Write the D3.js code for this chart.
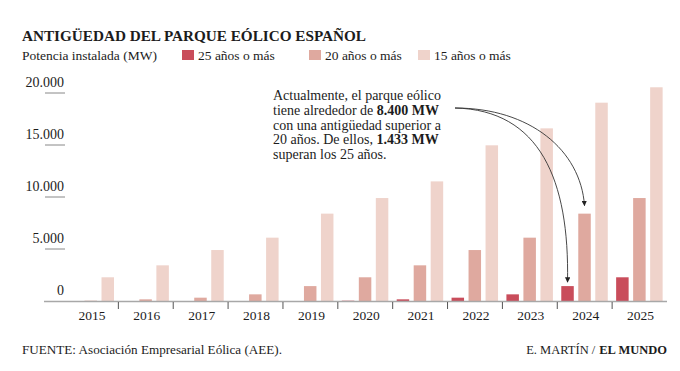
<!DOCTYPE html>
<html>
<head>
<meta charset="utf-8">
<script src="https://cdn.jsdelivr.net/npm/d3@7"></script>
<style>
  body { margin: 0; background: #fff; }
  svg { display: block; }
  text { font-family: "Liberation Serif", "DejaVu Serif", serif; fill: #1c1c1c; }
</style>
</head>
<body>
<svg id="chart" width="680" height="371"></svg>
<script>
// Data (MW)
const years = ["2015", "2016", "2017", "2018", "2019", "2020", "2021", "2022", "2023", "2024", "2025"];
const series = ["25 años o más", "20 años o más", "15 años o más"];
const over25 = [0, 0, 0, 0, 0, 30, 160, 320, 640, 1433, 2280];
const over20 = [30, 160, 320, 640, 1433, 2280, 3430, 4900, 6090, 8400, 9900];
const over15 = [2280, 3430, 4900, 6090, 8400, 9900, 11500, 14970, 16600, 19070, 20550];
const yTicks = [0, 5000, 10000, 15000, 20000];
const colours = ["#c94d5b", "#dfa99f", "#efd3cb"];

const rows = years.map(function (y, i) {
    return { year: y, values: [over25[i], over20[i], over15[i]] };
});

let svg = d3.select("#chart");

// Scales
let x0 = d3.scaleBand().domain(years).range([63.5, 667]).padding(0);
let x1 = d3.scaleBand().domain(series).range([4, 50.5]).paddingInner(0.265);
let y = d3.scaleLinear().domain([0, 20000]).range([301, 93]);

const fmt = function (v) { return d3.format(",")(v).replace(/,/g, "."); };

// Title
svg.append("text")
    .attr("x", 22).attr("y", 41)
    .attr("font-size", 15.5).attr("font-weight", "bold")
    .attr("textLength", 344).attr("lengthAdjust", "spacingAndGlyphs")
    .text("ANTIGÜEDAD DEL PARQUE EÓLICO ESPAÑOL");

// Legend
let legend = svg.append("g").attr("font-size", 13.5);
legend.append("text").attr("x", 22).attr("y", 60).text("Potencia instalada (MW)");
const legendX = [182, 309, 418];
series.forEach(function (s, i) {
    legend.append("rect")
        .attr("x", legendX[i]).attr("y", 50)
        .attr("width", 12).attr("height", 10)
        .attr("fill", colours[i]);
    legend.append("text").attr("x", legendX[i] + 16).attr("y", 60).text(s);
});

// Y axis: labels above short rules
let yAxis = svg.append("g");
yAxis.selectAll("line")
    .data(yTicks.filter(function (d) { return d > 0; }))
    .join("line")
    .attr("x1", 45).attr("x2", 65)
    .attr("y1", function (d) { return y(d); })
    .attr("y2", function (d) { return y(d); })
    .attr("stroke", "#888").attr("stroke-width", 1);
yAxis.selectAll("text")
    .data(yTicks)
    .join("text")
    .attr("x", 64)
    .attr("y", function (d) { return y(d) - 6; })
    .attr("text-anchor", "end")
    .attr("font-size", 14)
    .text(fmt);

// Bars
let groups = svg.append("g").selectAll("g")
    .data(rows)
    .join("g")
    .attr("transform", function (d) { return "translate(" + x0(d.year) + ",0)"; });

groups.selectAll("rect")
    .data(function (d) { return d.values.map(function (v, i) { return { key: series[i], value: v, i: i }; }); })
    .join("rect")
    .attr("x", function (d) { return x1(d.key); })
    .attr("width", x1.bandwidth())
    .attr("y", function (d) { return y(d.value); })
    .attr("height", function (d) { return y(0) - y(d.value); })
    .attr("fill", function (d) { return colours[d.i]; });

// Baseline and separators
svg.append("line")
    .attr("x1", 44).attr("x2", 667)
    .attr("y1", y(0) + 0.5).attr("y2", y(0) + 0.5)
    .attr("stroke", "#a8a8a8").attr("stroke-width", 1.5);

svg.append("g").selectAll("line")
    .data(years.slice(1))
    .join("line")
    .attr("x1", function (d) { return x0(d); })
    .attr("x2", function (d) { return x0(d); })
    .attr("y1", y(0) + 1).attr("y2", y(0) + 8)
    .attr("stroke", "#555").attr("stroke-width", 1);

svg.append("g").selectAll("text")
    .data(years)
    .join("text")
    .attr("x", function (d) { return x0(d) + x0.bandwidth() / 2 + 1; })
    .attr("y", 320)
    .attr("text-anchor", "middle")
    .attr("font-size", 13.5)
    .text(function (d) { return d; });

// Annotation
const noteLines = [
    [["Actualmente, el parque eólico", false]],
    [["tiene alrededor de ", false], ["8.400 MW", true]],
    [["con una antigüedad superior a", false]],
    [["20 años. De ellos, ", false], ["1.433 MW", true]],
    [["superan los 25 años.", false]]
];
noteLines.forEach(function (line, i) {
    let t = svg.append("text")
        .attr("x", 273).attr("y", 100 + i * 14.8)
        .attr("font-size", 14);
    line.forEach(function (part) {
        t.append("tspan")
            .attr("font-weight", part[1] ? "bold" : null)
            .text(part[0]);
    });
});

// Arrows
svg.append("defs").append("marker")
    .attr("id", "arrow")
    .attr("viewBox", "0 0 10 10")
    .attr("refX", 9).attr("refY", 5)
    .attr("markerWidth", 6).attr("markerHeight", 6)
    .attr("orient", "auto")
    .append("path")
    .attr("d", "M0,0 L10,5 L0,10 z")
    .attr("fill", "#222");

const i24 = years.indexOf("2024");
const startX = 455, startY = 108;
const tip20 = [x0("2024") + x1(series[1]) + x1.bandwidth() / 2, y(over20[i24]) - 8];
const tip25 = [x0("2024") + x1(series[0]) + x1.bandwidth() / 2, y(over25[i24]) - 4];

svg.append("path")
    .attr("d", "M" + startX + "," + startY + " C" + 530 + "," + 108 + " " + (tip20[0] - 4) + "," + 150 + " " + tip20[0] + "," + tip20[1])
    .attr("fill", "none").attr("stroke", "#333").attr("stroke-width", 0.9)
    .attr("marker-end", "url(#arrow)");

svg.append("path")
    .attr("d", "M" + startX + "," + startY + " C" + 540 + "," + 110 + " " + (tip25[0] + 2) + "," + 180 + " " + tip25[0] + "," + tip25[1])
    .attr("fill", "none").attr("stroke", "#333").attr("stroke-width", 0.9)
    .attr("marker-end", "url(#arrow)");

// Footer
svg.append("text")
    .attr("x", 22).attr("y", 354)
    .attr("font-size", 13.5)
    .attr("textLength", 260).attr("lengthAdjust", "spacingAndGlyphs")
    .text("FUENTE: Asociación Empresarial Eólica (AEE).");

// credit: two texts, bold part flush right, the rest placed by measured width
let brand = svg.append("text")
    .attr("x", 667).attr("y", 354)
    .attr("text-anchor", "end")
    .attr("font-size", 12.5).attr("font-weight", "bold")
    .text("EL MUNDO");
const brandW = brand.node().getComputedTextLength();

svg.append("text")
    .attr("x", 667 - brandW - 4).attr("y", 354)
    .attr("text-anchor", "end")
    .attr("font-size", 12.5)
    .text("E. MARTÍN /");
</script>
</body>
</html>
